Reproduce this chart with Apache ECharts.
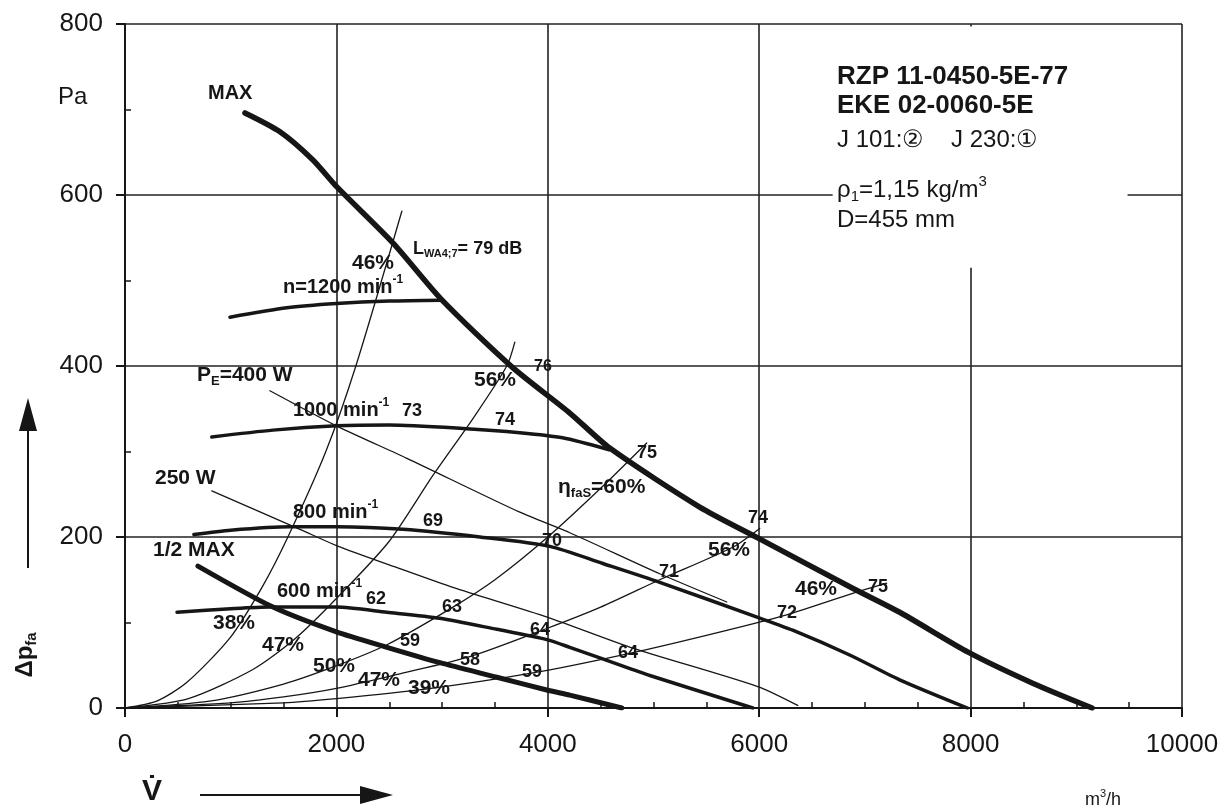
<!DOCTYPE html>
<html><head><meta charset="utf-8">
<script src="https://cdn.jsdelivr.net/npm/echarts@6/dist/echarts.min.js"></script>
<style>html,body{margin:0;padding:0;background:#fff}#c{width:1232px;height:812px}</style>
</head><body><div id="c"></div>
<script>
// ---------- data (V in m3/h, dp in Pa) ----------
const maxCurve = [[1135,696],[1466,674],[1778,641],[2000,610],[2534,544],[3000,477],[3660,399],[4208,345],[4586,304],[5437,235],[5986,199],[6884,140],[7329,112],[7981,65],[8587,29],[9150,0]];
const halfMaxCurve = [[690,166],[1400,118],[2000,89],[2478,71],[2979,53],[3518,36],[3990,21],[4208,15],[4700,0]];
const n1200 = [[993,457],[1530,468],[2000,473],[2500,476],[3000,477]];
const n1000 = [[821,317],[1400,325],[2000,330],[2500,331],[3196,327],[3735,322],[4140,316],[4580,302]];
const n800 = [[652,203],[1000,208],[1560,212],[2000,212],[2630,209],[3357,200],[4019,189],[4520,169],[5059,147],[5986,106],[6317,91],[6856,62],[7329,33],[7970,0]];
const n600 = [[492,112],[1000,116],[1371,118],[2000,118],[2478,112],[2979,105],[3518,92],[3990,80],[4208,71],[4804,45],[4965,38],[5940,0]];
const sysA = [[0,0],[300,8],[586,30],[993,82],[1300,142],[1541,200],[1900,300],[2184,400],[2619,581]];
const sysB = [[0,0],[600,11],[1210,45],[1600,80],[2000,128],[2500,195],[2913,272],[3300,340],[3612,400],[3688,428]];
const sysC = [[0,0],[800,8],[1500,28],[1970,48],[2478,74],[3103,118],[3500,150],[4000,200],[4500,257],[4936,310]];
const sysD = [[0,0],[1000,6],[1500,13],[2000,23],[2600,40],[3262,60],[3990,93],[4500,118],[5059,150],[5749,188],[6005,210]];
const sysE = [[0,0],[1500,6],[2000,11],[2840,22],[3858,41],[4775,64],[5500,85],[6260,109],[6884,134],[7206,146]];
const power400 = [[1371,371],[2000,330],[2667,292],[3735,229],[4208,205],[5059,157],[5693,124]];
const power250 = [[821,254],[1655,209],[2000,190],[2600,163],[3103,141],[4000,106],[4804,70],[5986,25],[6364,3]];

const xRange = [0, 10000, 2000];
const yRange = [0, 800, 200];

const boxLines = ['RZP 11-0450-5E-77', 'EKE 02-0060-5E', 'J 101:\u2461    J 230:\u2460', '\u03c1{sub|1}=1,15 kg/m{sup|3}', 'D=455 mm'];

// ---------- rendering ----------
const FONT = '"Liberation Sans", Arial, Helvetica, sans-serif';
const INK = '#161616';

function curve(name, data, width) {
  return { name, type: 'line', data, symbol: 'none', smooth: 0.25,
    lineStyle: { color: INK, width, cap: 'round', join: 'round' }, silent: true, z: 3, animation: false };
}
function rich(size, weight) {
  const s = Math.round(size * 0.62);
  return {
    sup: { fontFamily: FONT, fontSize: s, fontWeight: weight, fill: INK, padding: [0, 0, Math.round(size * 0.7), 0] },
    sub: { fontFamily: FONT, fontSize: s, fontWeight: weight, fill: INK, padding: [Math.round(size * 0.55), 0, 0, 0] }
  };
}
function T(x, y, text, size, weight, align, extra) {
  weight = weight || 'bold';
  return Object.assign({
    type: 'text', x, y, z: 100, silent: true,
    style: { text, fontFamily: FONT, fontSize: size, fontWeight: weight, fill: INK,
      align: align || 'center', verticalAlign: 'middle', rich: rich(size, weight) }
  }, extra || {});
}

const graphics = [
  T(208, 93, 'MAX', 20, 'bold', 'left'),
  T(153, 550, '1/2 MAX', 21, 'bold', 'left'),
  T(283, 287, 'n=1200 min{sup|-1}', 20, 'bold', 'left'),
  T(373, 263, '46%', 21),
  T(413, 249, 'L{sub|WA4;7}= 79 dB', 18, 'bold', 'left'),
  T(197, 375, 'P{sub|E}=400 W', 21, 'bold', 'left'),
  T(293, 410, '1000 min{sup|-1}', 20, 'bold', 'left'),
  T(412, 411, '73', 18), T(505, 420, '74', 18), T(495, 380, '56%', 21), T(543, 367, '76', 16),
  T(155, 478, '250 W', 21, 'bold', 'left'),
  T(293, 512, '800 min{sup|-1}', 20, 'bold', 'left'),
  T(433, 521, '69', 18), T(552, 541, '70', 18),
  T(277, 591, '600 min{sup|-1}', 20, 'bold', 'left'),
  T(376, 599, '62', 18), T(452, 607, '63', 18),
  T(234, 623, '38%', 21), T(283, 645, '47%', 21), T(410, 641, '59', 18),
  T(334, 666, '50%', 21), T(470, 660, '58', 18), T(379, 680, '47%', 21), T(429, 688, '39%', 21),
  T(540, 630, '64', 18), T(532, 672, '59', 18), T(628, 653, '64', 18),
  T(669, 572, '71', 18), T(729, 550, '56%', 21), T(758, 518, '74', 18), T(787, 613, '72', 18),
  T(816, 589, '46%', 21), T(878, 587, '75', 18), T(647, 453, '75', 18),
  T(558, 487, '\u03b7{sub|faS}=60%', 21, 'bold', 'left'),
  T(837, 77, boxLines[0], 26, 'bold', 'left'),
  T(837, 106, boxLines[1], 26, 'bold', 'left'),
  T(837, 140, boxLines[2], 24, 'normal', 'left'),
  T(837, 190, boxLines[3], 24, 'normal', 'left'),
  T(837, 220, boxLines[4], 24, 'normal', 'left'),
  T(58, 97, 'Pa', 24, 'normal', 'left'),
  T(1085, 800, 'm{sup|3}/h', 18, 'normal', 'left'),
  T(152, 792, 'V\u0307', 30, 'bold', 'center'),
  T(25, 655, '\u0394p{sub|fa}', 24, 'bold', 'center', { rotation: Math.PI / 2 }),
  { type: 'line', z: 100, silent: true, shape: { x1: 200, y1: 795, x2: 366, y2: 795 }, style: { stroke: INK, lineWidth: 2 } },
  { type: 'polygon', z: 100, silent: true, shape: { points: [[360, 786], [393, 795], [360, 804]] }, style: { fill: INK } },
  { type: 'line', z: 100, silent: true, shape: { x1: 28, y1: 568, x2: 28, y2: 426 }, style: { stroke: INK, lineWidth: 2 } },
  { type: 'polygon', z: 100, silent: true, shape: { points: [[19, 431], [28, 398], [37, 431]] }, style: { fill: INK } }
];

const maxSeries = curve('MAX', maxCurve, 5.5);
maxSeries.markArea = {
  silent: true,
  itemStyle: { color: '#ffffff', opacity: 1, borderWidth: 0 },
  data: [[{ coord: [6695, 515] }, { coord: [9485, 797] }]]
};

const axisCommon = {
  type: 'value',
  axisLine: { show: true, onZero: false, lineStyle: { color: INK, width: 2 } },
  axisTick: { show: true, length: 9, lineStyle: { color: INK, width: 2 } },
  splitLine: { show: true, lineStyle: { color: '#222', width: 1.6 } },
};

const chart = echarts.init(document.getElementById('c'), null, { renderer: 'canvas' });
chart.setOption({
  animation: false,
  backgroundColor: '#fff',
  grid: { left: 125, right: 50, top: 24, bottom: 104, containLabel: false, outerBoundsMode: 'none' },
  xAxis: Object.assign({}, axisCommon, {
    min: xRange[0], max: xRange[1], interval: xRange[2],
    minorTick: { show: true, splitNumber: 4, length: -6, lineStyle: { color: INK, width: 1.5 } },
    axisLabel: { margin: 24, fontFamily: FONT, fontSize: 26, color: INK, formatter: v => String(v) }
  }),
  yAxis: Object.assign({}, axisCommon, {
    min: yRange[0], max: yRange[1], interval: yRange[2],
    minorTick: { show: true, splitNumber: 2, length: -6, lineStyle: { color: INK, width: 1.5 } },
    axisLabel: { margin: 22, fontFamily: FONT, fontSize: 26, color: INK, formatter: v => String(v) }
  }),
  series: [
    maxSeries,
    curve('1/2 MAX', halfMaxCurve, 5),
    curve('n1200', n1200, 3.5),
    curve('n1000', n1000, 3.5),
    curve('n800', n800, 3.5),
    curve('n600', n600, 3.5),
    curve('A', sysA, 1.3),
    curve('B', sysB, 1.3),
    curve('C', sysC, 1.3),
    curve('D', sysD, 1.3),
    curve('E', sysE, 1.3),
    curve('400W', power400, 1.3),
    curve('250W', power250, 1.3)
  ],
  graphic: graphics
});
</script></body></html>
